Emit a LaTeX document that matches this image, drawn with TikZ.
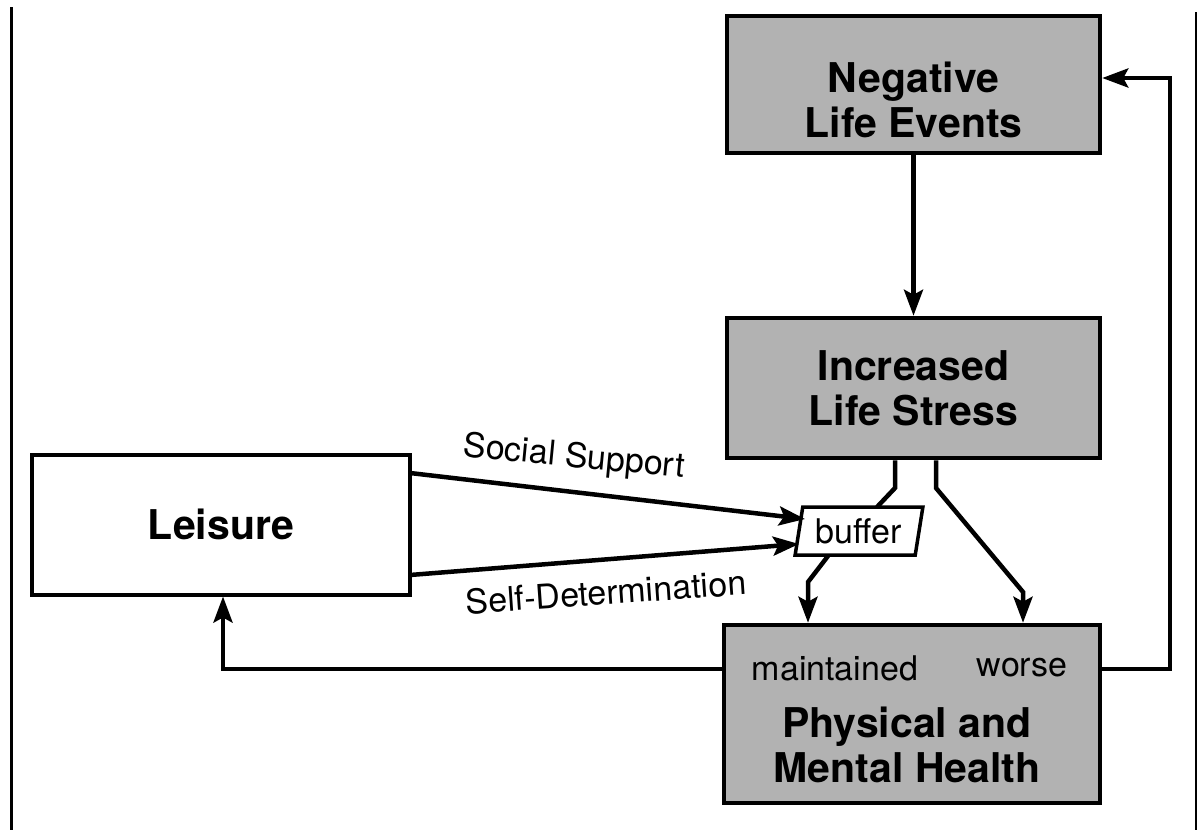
\documentclass[tikz,border=0pt]{standalone}
\usepackage{fontspec}
\setmainfont{TeX Gyre Heros}
\usetikzlibrary{arrows.meta,shapes.geometric,calc}
\begin{document}
\begin{tikzpicture}[x=1pt,y=-1pt,
  boldtext/.style={font=\bfseries\fontsize{41}{45}\selectfont,align=center,inner sep=0pt},
  shaded/.style={draw,line width=4.5pt,fill=black!30,rectangle,align=center,
    font=\bfseries\fontsize{41}{45}\selectfont},
  plainbox/.style={draw,line width=4pt,fill=white,rectangle,align=center,
    font=\bfseries\fontsize{41}{45}\selectfont},
  lbl/.style={font=\fontsize{34}{38}\selectfont,inner sep=0pt},
  conn/.style={line width=4.5pt,line join=miter},
  arr/.style={conn,-{Stealth[length=26pt,width=19pt,inset=5pt]}},
  frame/.style={line width=3pt}]
\useasboundingbox (0,0) rectangle (1199,830);
% frame
\coordinate (fl1) at (11,7);
\coordinate (fl2) at (11,830);
\coordinate (fr1) at (1196,12);
\coordinate (fr2) at (1196,830);
\draw[frame] (fl1) -- (fl2);
\draw[frame,line width=2.5pt] (fr1) -- (fr2);
% boxes
\node[shaded,minimum width=373,minimum height=137] (nle) at (913.5,84.5) {};
\node[boldtext] (nlet) at (913.5,100) {Negative\\Life Events};
\node[shaded,minimum width=373,minimum height=140] (ils) at (913.5,388) {Increased\\Life Stress};
\node[shaded,minimum width=376,minimum height=178] (pmh) at (912,714) {};
\node[lbl] (mt) at (835,668) {maintained};
\node[lbl] (ws) at (1022,668) {worse};
\node[boldtext] (pm) at (907,745) {Physical and\\Mental Health};
\node[plainbox,minimum width=378,minimum height=140] (leis) at (221,524.5) {Leisure};
\node[draw,line width=3.5pt,fill=white,trapezium,trapezium left angle=77,trapezium right angle=103,
  trapezium stretches=true,minimum width=128,minimum height=48,inner sep=0pt,
  font=\fontsize{34}{38}\selectfont] (buf) at (859,531) {buffer};
% NLE -> ILS
\draw[arr] (nle.south) -- (ils.south |- ils.north);
% ILS left leg -> buffer
\coordinate (a1) at (895,488);
\coordinate (a2) at (877,507);
\draw[conn] (ils.south -| a1) -- (a1) -- (a2);
% buffer -> PMH
\coordinate (b1) at (828,556);
\coordinate (b2) at (808,582);
\draw[arr] (b1) -- (b2) -- (pmh.north -| b2);
% ILS right leg -> PMH
\coordinate (c1) at (936,488);
\coordinate (c2) at (1023,592);
\draw[arr] (ils.south -| c1) -- (c1) -- (c2) -- (pmh.north -| c2);
% Leisure -> buffer
\coordinate (s1) at (410,473);
\coordinate (s2) at (805,519);
\coordinate (d1) at (410,575);
\coordinate (d2) at (799,544);
\draw[arr] (s1) -- (s2);
\draw[arr] (d1) -- (d2);
\node[lbl,rotate=-5.5] (ss) at (574,458) {Social Support};
\node[lbl,rotate=4] (sd) at (606,592) {Self-Determination};
% PMH -> Leisure
\coordinate (e1) at (223,669);
\draw[arr] (pmh.west |- e1) -- (e1) -- (leis.south -| e1);
% PMH -> NLE
\coordinate (f1) at (1170,669);
\coordinate (f2) at (1170,78);
\draw[arr] (pmh.east |- f1) -- (f1) -- (f2) -- (nle.east |- f2);
\end{tikzpicture}
\end{document}
